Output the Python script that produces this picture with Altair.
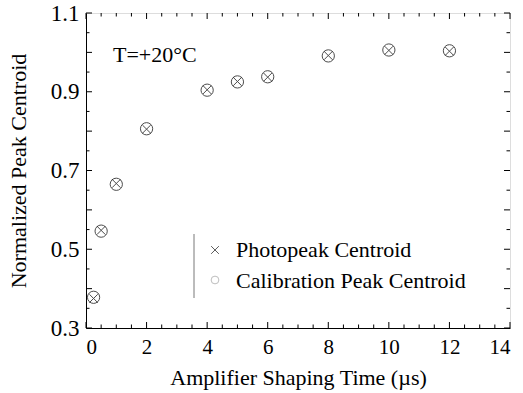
import altair as alt
import pandas as pd

# ---- data ----
shaping_time = [0.25, 0.5, 1, 2, 4, 5, 6, 8, 10, 12]
photopeak = [0.375, 0.548, 0.667, 0.805, 0.905, 0.926, 0.937, 0.992, 1.005, 1.003]
calibration = [0.378, 0.546, 0.665, 0.806, 0.904, 0.925, 0.938, 0.991, 1.006, 1.004]
series_names = ["Photopeak Centroid", "Calibration Peak Centroid"]

x_labels = [0, 2, 4, 6, 8, 10, 12, 14]
x_minor = [0.5, 1, 1.5, 2.5, 3, 3.5, 4.5, 5, 5.5, 6.5, 7, 7.5, 8.5, 9, 9.5,
           10.5, 11, 11.5, 12.5, 13, 13.5]
y_labels = [0.3, 0.5, 0.7, 0.9, 1.1]
y_major = [0.3, 0.4, 0.5, 0.6, 0.7, 0.8, 0.9, 1.0, 1.1]
y_minor = [0.35, 0.45, 0.55, 0.65, 0.75, 0.85, 0.95, 1.05]
annotation = ["T=+20°C"]

W, H = 424, 315
FONT = "Liberation Serif"
CROSS = "M-1,-1L1,1M-1,1L1,-1"

df_p = pd.DataFrame({"t": shaping_time, "v": photopeak})
df_c = pd.DataFrame({"t": shaping_time, "v": calibration})

xs = alt.Scale(domain=[0, 14], nice=False, zero=False)
ys = alt.Scale(domain=[0.3, 1.1], nice=False, zero=False)

xaxis = alt.Axis(values=x_labels, tickSize=0, labelPadding=8, labelFontSize=21,
                 labelFont=FONT, labelColor="black", domainColor="black",
                 title="Amplifier Shaping Time (µs)", titleFont=FONT,
                 titleFontSize=22, titleFontWeight="normal", titleColor="black",
                 titlePadding=10, grid=False, format="d")
yaxis = alt.Axis(values=y_labels, tickSize=0, labelPadding=7, labelFontSize=23,
                 labelFont=FONT, labelColor="black", domainColor="black",
                 title="Normalized Peak Centroid", titleFont=FONT,
                 titleFontSize=22, titleFontWeight="normal", titleColor="black",
                 titlePadding=20, grid=False, format=".1f")

circles = alt.Chart(df_c).mark_point(shape="circle", filled=False, size=150,
                                     strokeWidth=1, color="black").encode(
    x=alt.X("t:Q", scale=xs, axis=xaxis),
    y=alt.Y("v:Q", scale=ys, axis=yaxis),
)
crosses = alt.Chart(df_p).mark_point(shape=CROSS, filled=False, size=70,
                                     strokeWidth=1, color="black").encode(
    x=alt.X("t:Q", scale=xs), y=alt.Y("v:Q", scale=ys),
)


def xrule(vals, y0, y1):
    return alt.Chart(pd.DataFrame({"t": vals})).mark_rule(color="black", strokeWidth=1).encode(
        x=alt.X("t:Q", scale=xs), y=alt.value(y0), y2=alt.value(y1))


def yrule(vals, x0, x1):
    return alt.Chart(pd.DataFrame({"v": vals})).mark_rule(color="black", strokeWidth=1).encode(
        y=alt.Y("v:Q", scale=ys), x=alt.value(x0), x2=alt.value(x1))


ticks = [
    xrule(x_labels, H, H - 6), xrule(x_minor, H, H - 3.5),
    xrule(x_labels, 0, 6), xrule(x_minor, 0, 3.5),
    yrule(y_major, 0, 6), yrule(y_minor, 0, 3.5),
    yrule(y_major, W, W - 6), yrule(y_minor, W, W - 3.5),
]

label = alt.Chart(pd.DataFrame({"txt": annotation})).mark_text(
    font=FONT, fontSize=22, align="left", baseline="middle", color="black"
).encode(text="txt:N", x=alt.value(27), y=alt.value(42))

# manual legend
leg_bar = alt.Chart(pd.DataFrame({"a": [0]})).mark_rule(color="#555555", strokeWidth=0.8).encode(
    x=alt.value(108), y=alt.value(221), y2=alt.value(285))
leg_cross = alt.Chart(pd.DataFrame({"a": [0]})).mark_point(
    shape=CROSS, filled=False, size=60, strokeWidth=0.9, color="black"
).encode(x=alt.value(129), y=alt.value(237))
leg_circle = alt.Chart(pd.DataFrame({"a": [0]})).mark_point(
    shape="circle", filled=False, size=60, strokeWidth=0.9, color="#999999"
).encode(x=alt.value(129), y=alt.value(267))
leg_t1 = alt.Chart(pd.DataFrame({"txt": [series_names[0]]})).mark_text(
    font=FONT, fontSize=22, align="left", baseline="middle", color="black"
).encode(text="txt:N", x=alt.value(150), y=alt.value(237))
leg_t2 = alt.Chart(pd.DataFrame({"txt": [series_names[1]]})).mark_text(
    font=FONT, fontSize=22, align="left", baseline="middle", color="black"
).encode(text="txt:N", x=alt.value(150), y=alt.value(268))

chart = alt.layer(circles, crosses, *ticks, label, leg_bar, leg_cross, leg_circle,
                  leg_t1, leg_t2).properties(
    width=W, height=H,
    padding={"left": 86, "top": 13, "right": 13, "bottom": 65},
    autosize=alt.AutoSizeParams(type="none"),
).configure_view(stroke="black", strokeWidth=1).configure(background="white")

chart.save("out.html", embed_options={"renderer": "svg", "actions": False})
